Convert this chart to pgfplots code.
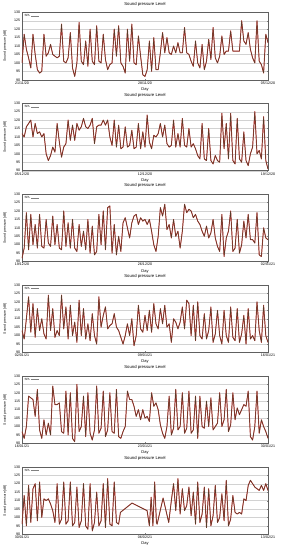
\documentclass[border=0pt]{standalone}
\usepackage{fontspec}
\setmainfont{Liberation Sans}
\usepackage{pgfplots}
\usepackage{pgfplotstable}
\pgfplotsset{compat=1.18}
\definecolor{splred}{rgb}{0.82,0.22,0.22}
\definecolor{spldark}{rgb}{0.33,0.24,0.16}

\pgfplotstableread[row sep=\\]{y\\
100\\117\\108\\103\\97\\117\\105\\96\\
94\\95\\117\\104\\106\\111\\105\\104\\
103\\104\\123\\101\\100\\103\\118\\97\\
92\\100\\124\\101\\99\\113\\98\\120\\
101\\99\\122\\101\\100\\117\\102\\96\\
99\\100\\120\\104\\122\\100\\98\\94\\
120\\101\\123\\100\\99\\116\\104\\93\\
92\\96\\113\\95\\115\\96\\96\\106\\
118\\106\\115\\106\\105\\110\\106\\112\\
106\\106\\121\\106\\105\\101\\98\\113\\
100\\97\\111\\96\\101\\114\\102\\121\\
103\\100\\104\\116\\105\\107\\107\\119\\
107\\107\\107\\107\\125\\113\\111\\118\\
108\\103\\100\\125\\101\\99\\94\\117\\
112\\}\dA

\pgfplotstableread[row sep=\\]{y\\
112\\110\\116\\118\\120\\110\\118\\112\\
113\\110\\112\\100\\96\\99\\104\\101\\
118\\107\\98\\104\\106\\120\\108\\117\\
108\\118\\114\\116\\121\\116\\115\\117\\
121\\106\\116\\117\\117\\120\\117\\120\\
110\\105\\120\\104\\117\\103\\104\\116\\
104\\105\\114\\103\\104\\118\\103\\113\\
104\\123\\107\\103\\111\\110\\112\\118\\
110\\117\\106\\104\\105\\120\\104\\112\\
104\\121\\105\\104\\115\\104\\106\\103\\
99\\97\\118\\97\\96\\115\\96\\94\\
99\\96\\95\\124\\103\\118\\97\\124\\
96\\94\\121\\97\\95\\113\\96\\93\\
100\\104\\125\\100\\102\\97\\122\\96\\
91\\}\dB

\pgfplotstableread[row sep=\\]{y\\
92\\98\\119\\97\\118\\100\\112\\98\\
118\\99\\98\\115\\101\\99\\117\\100\\
112\\98\\97\\120\\99\\113\\98\\115\\
98\\96\\112\\99\\108\\97\\115\\95\\
111\\94\\96\\118\\100\\120\\97\\122\\
123\\95\\112\\94\\105\\96\\113\\116\\
110\\104\\113\\117\\118\\112\\116\\114\\
115\\112\\115\\108\\100\\96\\105\\122\\
117\\124\\109\\112\\104\\115\\105\\108\\
98\\108\\124\\119\\121\\120\\116\\118\\
114\\112\\108\\105\\111\\104\\107\\115\\
104\\99\\96\\118\\93\\104\\108\\120\\
96\\98\\115\\95\\100\\114\\104\\118\\
103\\103\\101\\119\\94\\93\\110\\104\\
103\\}\dC

\pgfplotstableread[row sep=\\]{y\\
103\\98\\110\\123\\102\\119\\99\\116\\
103\\110\\101\\98\\124\\103\\116\\99\\
103\\100\\124\\104\\117\\98\\118\\100\\
108\\96\\121\\100\\116\\98\\107\\97\\
113\\100\\95\\123\\105\\112\\117\\104\\
106\\107\\113\\105\\103\\99\\95\\100\\
107\\100\\110\\94\\100\\118\\104\\102\\
112\\103\\115\\102\\119\\107\\104\\116\\
107\\118\\105\\107\\96\\110\\108\\104\\
108\\117\\104\\121\\119\\100\\118\\97\\
120\\100\\98\\113\\98\\103\\117\\96\\
101\\115\\100\\95\\115\\100\\96\\117\\
99\\97\\116\\96\\101\\112\\95\\116\\
98\\100\\97\\120\\103\\96\\118\\100\\
96\\}\dD

\pgfplotstableread[row sep=\\]{y\\
97\\93\\100\\118\\117\\116\\106\\122\\
98\\93\\104\\95\\102\\95\\124\\113\\
113\\114\\97\\96\\121\\95\\120\\93\\
91\\125\\97\\100\\118\\94\\120\\96\\
92\\98\\124\\96\\99\\121\\94\\98\\
120\\97\\96\\122\\94\\93\\97\\100\\
121\\116\\116\\112\\106\\110\\104\\110\\
105\\106\\103\\120\\112\\114\\110\\101\\
96\\93\\100\\118\\95\\99\\122\\98\\
100\\120\\96\\99\\121\\96\\98\\118\\
93\\118\\100\\99\\115\\100\\117\\98\\
100\\102\\120\\100\\104\\122\\97\\101\\
120\\104\\111\\107\\110\\113\\112\\121\\
94\\92\\100\\121\\96\\104\\100\\97\\
93\\}\dE

\pgfplotstableread[row sep=\\]{x y\\
0 96\\ 0.125 113\\ 0.25 95\\ 0.375 119\\ 0.5 97\\ 0.625 117\\ 0.75 120\\ 0.875 98\\
1 121\\ 1.125 100\\ 1.25 111\\ 1.375 110\\ 1.5 111\\ 1.625 108\\ 1.75 104\\ 1.875 97\\
2 120\\ 2.125 96\\ 2.25 99\\ 2.375 121\\ 2.5 96\\ 2.625 98\\ 2.75 121\\ 2.875 95\\
3 97\\ 3.125 118\\ 3.25 94\\ 3.375 98\\ 3.5 120\\ 3.625 95\\ 3.75 93\\ 3.875 120\\
4 92\\ 4.125 97\\ 4.25 115\\ 4.375 95\\ 4.5 98\\ 4.625 120\\ 4.75 94\\ 4.875 123\\
5 96\\ 5.125 95\\ 5.25 121\\ 5.375 97\\ 5.5 96\\ 5.6 103\\
6.26 108.5\\ 7.12 104\\ 7.25 95\\ 7.35 112\\ 7.45 95\\ 7.55 121\\ 7.65 97\\ 7.69 96\\
8.03 111.5\\ 8.35 97\\ 8.5 110\\ 8.625 120\\ 8.75 104\\ 8.875 123\\
9 102\\ 9.125 117\\ 9.25 104\\ 9.375 107\\ 9.5 118\\ 9.625 101\\ 9.75 115\\ 9.875 96\\
10 121\\ 10.125 97\\ 10.25 102\\ 10.375 118\\ 10.5 94\\ 10.625 117\\ 10.75 95\\ 10.875 101\\
11 119\\ 11.125 97\\ 11.25 100\\ 11.375 114\\ 11.5 98\\ 11.625 122\\ 11.75 95\\ 11.875 99\\
12 113\\ 12.125 103\\ 12.25 102\\ 12.375 103\\ 12.5 102\\ 12.625 111\\ 12.75 110\\ 12.875 119\\
13 122\\ 13.125 120\\ 13.25 118\\ 13.375 117\\ 13.5 116\\ 13.625 119\\ 13.75 116\\ 13.875 120\\
14 116\\}\dF

\pgfplotsset{
 panel/.style={
  scale only axis, width=492pt, height=135pt,
  xmin=0, xmax=14, ymin=90, ymax=130,
  xtick={0,7,14}, ytick={90,95,...,130},
  ymajorgrids, grid style={gray!35, line width=0.4pt},
  tick align=inside, major tick length=2pt,
  axis line style={line width=0.8pt, gray!75!black},
  ticklabel style={font=\fontsize{7.2}{8}\selectfont},
  /pgf/number format/assume math mode=true,
  title={Sound pressure Level},
  title style={at={(axis description cs:0.5,1.078)}, anchor=center, font=\fontsize{8.5}{9}\selectfont},
  xlabel={Day},
  xlabel style={at={(axis description cs:0.5,-0.141)}, anchor=center, font=\fontsize{8}{9}\selectfont},
  ylabel={Sound pressure [dB]},
  ylabel style={at={(axis description cs:-0.069,0.5)}, anchor=center, font=\fontsize{6.8}{8}\selectfont},
  legend style={at={(axis description cs:0.004,0.99)}, anchor=north west, draw=none, fill=white, fill opacity=0.8, text opacity=1, font=\fontsize{6}{7}\selectfont, inner sep=1pt},
  legend plot pos=right,
  legend cell align=left,
 },
 redl/.style={splred, line width=1.8pt, line join=round, forget plot},
 darkl/.style={spldark, line width=1.0pt, line join=round,
   legend image code/.code={\draw[gray, line width=0.9pt] (0pt,0pt) -- (16pt,0pt);}},
}

\begin{document}
\begin{tikzpicture}
\path[use as bounding box] (0,0) rectangle (562pt,1100pt);

\begin{axis}[panel, at={(44pt,940.4pt)}, xticklabels={21/11/20,28/11/20,05/12/20}]
\addplot[redl] table[x expr=\coordindex/8, y=y]{\dA};
\addplot[darkl] table[x expr=\coordindex/8, y=y]{\dA};
\addlegendentry{SPL}
\end{axis}

\begin{axis}[panel, at={(44pt,758.6pt)}, xticklabels={05/12/20,12/12/20,19/12/20}]
\addplot[redl] table[x expr=\coordindex/8, y=y]{\dB};
\addplot[darkl] table[x expr=\coordindex/8, y=y]{\dB};
\addlegendentry{SPL}
\end{axis}

\begin{axis}[panel, at={(44pt,576.8pt)}, xticklabels={19/12/20,26/12/20,02/01/21}]
\addplot[redl] table[x expr=\coordindex/8, y=y]{\dC};
\addplot[darkl] table[x expr=\coordindex/8, y=y]{\dC};
\addlegendentry{SPL}
\end{axis}

\begin{axis}[panel, at={(44pt,395.0pt)}, xticklabels={02/01/21,09/01/21,16/01/21}]
\addplot[redl] table[x expr=\coordindex/8, y=y]{\dD};
\addplot[darkl] table[x expr=\coordindex/8, y=y]{\dD};
\addlegendentry{SPL}
\end{axis}

\begin{axis}[panel, at={(44pt,213.2pt)}, xticklabels={16/01/21,23/01/21,30/01/21}]
\addplot[redl] table[x expr=\coordindex/8, y=y]{\dE};
\addplot[darkl] table[x expr=\coordindex/8, y=y]{\dE};
\addlegendentry{SPL}
\end{axis}

\begin{axis}[panel, at={(44pt,31.4pt)}, xticklabels={30/01/21,06/02/21,13/02/21}]
\addplot[redl] table[x=x, y=y]{\dF};
\addplot[darkl] table[x=x, y=y]{\dF};
\addlegendentry{SPL}
\end{axis}
\end{tikzpicture}
\end{document}
